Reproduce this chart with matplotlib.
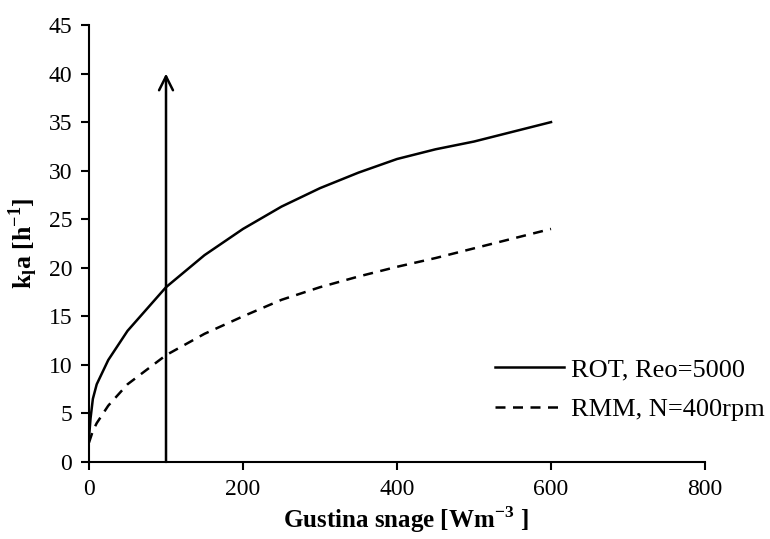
import matplotlib
matplotlib.use("Agg")
import matplotlib.pyplot as plt

plt.rcParams['font.family'] = ['Liberation Serif', 'DejaVu Serif']
plt.rcParams['mathtext.fontset'] = 'custom'
plt.rcParams['mathtext.rm'] = 'Liberation Serif'
plt.rcParams['mathtext.bf'] = 'Liberation Serif:bold'

# data
rot_x = [0, 2, 5, 10, 25, 50, 100, 150, 200, 250, 300, 350, 400, 450, 500, 550, 600]
rot_y = [2.5, 4.5, 6.5, 8.0, 10.5, 13.5, 18.0, 21.3, 24.0, 26.3, 28.2, 29.8, 31.2, 32.2, 33.0, 34.0, 35.0]
rmm_x = [0, 5, 10, 25, 50, 100, 150, 200, 250, 300, 350, 400, 450, 500, 550, 600]
rmm_y = [2.0, 3.2, 4.0, 5.8, 8.0, 11.0, 13.2, 15.0, 16.7, 18.0, 19.1, 20.1, 21.0, 22.0, 23.0, 24.0]
arrow_x = 100
arrow_y0, arrow_y1 = 0, 40

fig = plt.figure(figsize=(7.7, 5.39), dpi=100)
ax = fig.add_axes([0.1156, 0.1429, 0.80, 0.8107])

ax.plot(rot_x, rot_y, color='black', lw=1.8, label='ROT, Reo=5000')
ax.plot(rmm_x, rmm_y, color='black', lw=1.8, ls=(0, (4, 3)), label='RMM, N=400rpm')
ax.annotate('', xy=(arrow_x, arrow_y1), xytext=(arrow_x, arrow_y0),
            arrowprops=dict(arrowstyle='->,head_length=1.0,head_width=0.5', color='black', lw=1.8,
                            shrinkA=0, shrinkB=0))

ax.set_xlim(0, 800)
ax.set_ylim(0, 45)
ax.set_xticks([0, 200, 400, 600, 800])
ax.set_yticks(range(0, 50, 5))
for s in ['top', 'right']:
    ax.spines[s].set_visible(False)
for s in ['left', 'bottom']:
    ax.spines[s].set_linewidth(1.5)
ax.tick_params(direction='out', length=6, width=1.5, labelsize=17, pad=6)

ax.set_xlabel('Gustina snage [Wm$^\\mathregular{-3}$ ]', fontsize=18, fontweight='bold')
ax.xaxis.set_label_coords(0.515, -0.097)
ax.set_ylabel('k$_\\mathregular{l}$a [h$^\\mathregular{-1}$]', fontsize=18.5, fontweight='bold', labelpad=6)

fig.legend(loc='center left', bbox_to_anchor=(0.643, 0.277), frameon=False, fontsize=19,
           handlelength=2.6, handletextpad=0.27, labelspacing=0.62, borderpad=0, borderaxespad=0)

fig.savefig('out.png', dpi=100)
